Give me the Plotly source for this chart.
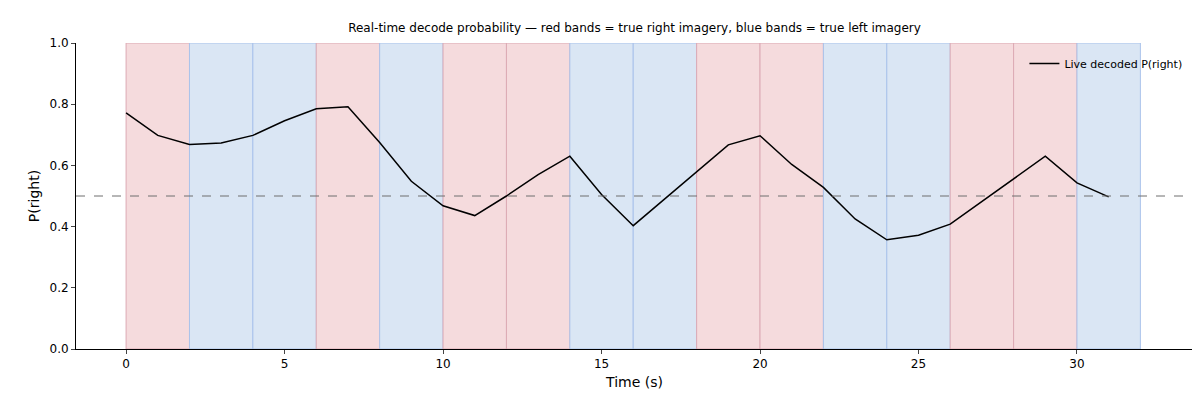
import plotly.graph_objects as go

t = list(range(32))
p_right = [0.772,0.698,0.668,0.673,0.698,0.746,0.785,0.792,0.675,0.548,0.468,0.436,0.500,0.570,0.630,0.505,
           0.403,0.492,0.578,0.667,0.697,0.603,0.528,0.425,0.357,0.372,0.408,0.483,0.558,0.630,0.543,0.497]
band_starts = list(range(0, 32, 2))
band_labels = ["R","L","L","R","L","R","R","L","L","R","R","L","L","R","R","L"]

fig = go.Figure()
shapes = []
for s, lab in zip(band_starts, band_labels):
    fill = "rgb(245,219,221)" if lab == "R" else "rgb(218,230,244)"
    edge = "rgb(220,170,180)" if lab == "R" else "rgb(170,195,235)"
    shapes.append(dict(type="rect", xref="x", yref="y", x0=s, x1=s+2, y0=0, y1=1,
                       fillcolor=fill, line=dict(color=edge, width=1), layer="below"))
shapes.append(dict(type="line", xref="paper", yref="y", x0=0, x1=1, y0=0.5, y1=0.5,
                   line=dict(color="rgb(110,110,110)", width=1, dash="dash")))

fig.add_trace(go.Scatter(x=t, y=p_right, mode="lines", line=dict(color="black", width=1.5),
                         name="Live decoded P(right)"))
fig.update_layout(
    width=1200, height=400, plot_bgcolor="white", paper_bgcolor="white",
    margin=dict(l=68, r=15, t=35, b=59, autoexpand=False), shapes=shapes,
    font=dict(family="DejaVu Sans", size=12, color="black"),
    title=dict(text="Real-time decode probability — red bands = true right imagery, blue bands = true left imagery",
               x=0.5, xanchor="center", xref="paper", y=0.95, yanchor="middle", font=dict(size=12)),
    xaxis=dict(range=[-1.58, 33.66], tickvals=[0,5,10,15,20,25,30], showgrid=False, zeroline=False,
               automargin=False, showline=True, linecolor="black", ticks="outside", ticklen=4,
               title=dict(text="Time (s)", standoff=6)),
    yaxis=dict(range=[0, 1], tickvals=[0,0.2,0.4,0.6,0.8,1.0], tickformat=".1f", showgrid=False, zeroline=False,
               automargin=False, showline=True, linecolor="black", ticks="outside", ticklen=4,
               title=dict(text="P(right)", standoff=6)),
    legend=dict(x=0.995, y=0.98, xanchor="right", yanchor="top", bgcolor="rgba(0,0,0,0)",
                font=dict(size=11)),
    showlegend=True,
)
fig.write_html("out.html")
